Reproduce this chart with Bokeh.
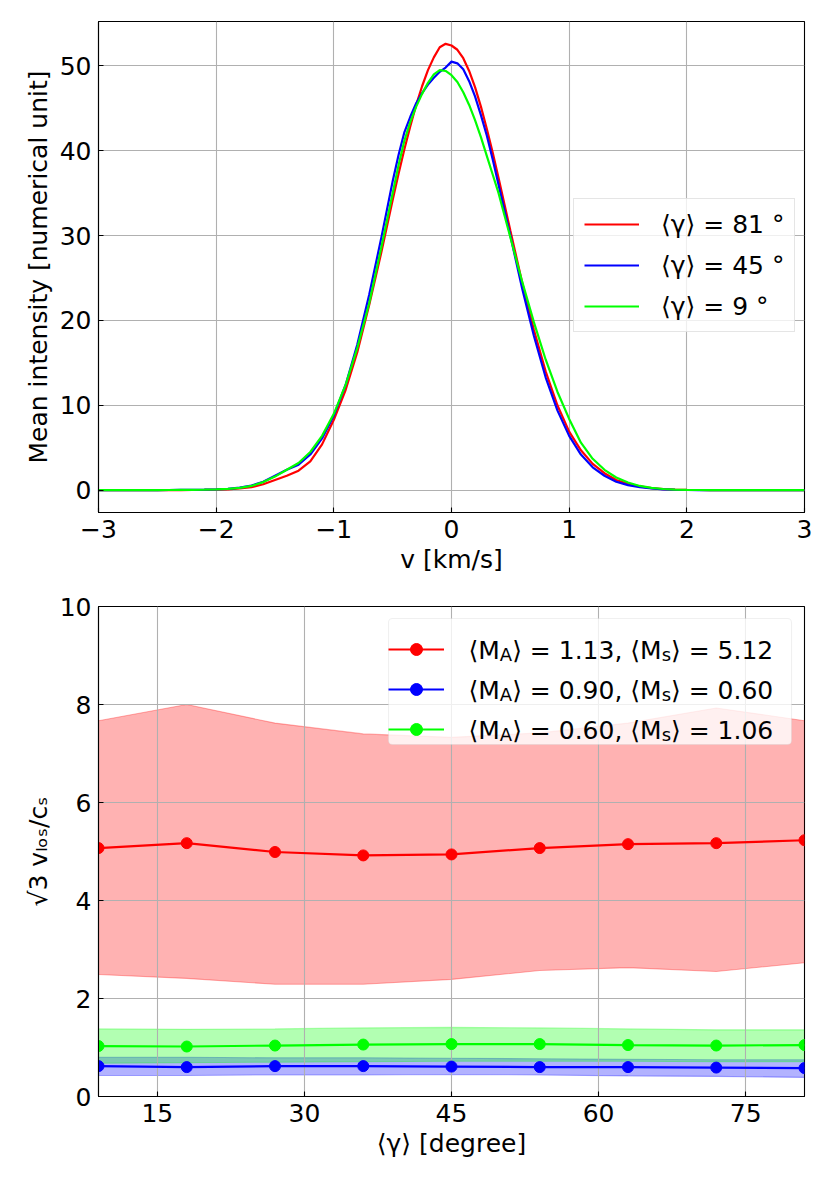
import os
import subprocess
from bokeh.plotting import figure
from bokeh.models import Range1d, FixedTicker, Legend, LegendItem, Label, BoxAnnotation
from bokeh.layouts import column
from bokeh.embed import file_html
from bokeh.resources import INLINE

FONT = "DejaVu Sans"
FS = 25
SUB_FS = 18

# ---------------- top panel data ----------------
velocity = [-3.0, -2.9, -2.8, -2.7, -2.6, -2.5, -2.4, -2.3, -2.2, -2.1,
            -2.0, -1.9, -1.8, -1.7, -1.6, -1.5, -1.4, -1.3, -1.2, -1.1,
            -1.0, -0.9, -0.8, -0.7, -0.6,
            -0.5, -0.45, -0.4, -0.35, -0.3, -0.25, -0.2, -0.15, -0.1, -0.05,
            0.0, 0.05, 0.1, 0.15, 0.2, 0.25, 0.3, 0.35, 0.4, 0.45, 0.5,
            0.6, 0.7, 0.8, 0.9,
            1.0, 1.1, 1.2, 1.3, 1.4, 1.5, 1.6, 1.7, 1.8, 1.9,
            2.0, 2.1, 2.2, 2.3, 2.4, 2.5, 2.6, 2.7, 2.8, 2.9, 3.0]

intensity_81 = [0.0, 0.0, 0.0, 0.0, 0.0, 0.0, 0.01, 0.01, 0.02, 0.03,
                0.05, 0.1, 0.2, 0.35, 0.7, 1.2, 1.7, 2.3, 3.4, 5.4,
                8.3, 11.8, 16.3, 21.8, 27.8,
                34.2, 37.3, 40.2, 42.9, 45.4, 47.6, 49.5, 51.0, 52.2, 52.6,
                52.4, 51.9, 50.9, 49.4, 47.5, 45.2, 42.6, 39.8, 36.8, 33.7, 30.6,
                24.5, 18.9, 14.0, 10.0,
                6.9, 4.7, 3.1, 2.0, 1.2, 0.75, 0.45, 0.25, 0.12, 0.06,
                0.03, 0.02, 0.01, 0.01, 0.0, 0.0, 0.0, 0.0, 0.0, 0.0, 0.0]

intensity_45 = [0.0, 0.0, 0.0, 0.0, 0.01, 0.01, 0.02, 0.03, 0.04, 0.06,
                0.1, 0.15, 0.3, 0.55, 1.0, 1.7, 2.4, 3.0, 4.2, 6.1,
                8.8, 12.4, 17.2, 23.0, 29.5,
                36.4, 39.5, 42.2, 44.0, 45.6, 46.8, 47.8, 48.6, 49.3, 49.8,
                50.5, 50.3, 49.6, 48.2, 46.4, 44.2, 41.8, 39.0, 36.0, 33.0, 30.0,
                23.8, 18.2, 13.3, 9.4,
                6.4, 4.2, 2.7, 1.7, 1.0, 0.6, 0.35, 0.2, 0.1, 0.05,
                0.02, 0.01, 0.01, 0.0, 0.0, 0.0, 0.0, 0.0, 0.0, 0.0, 0.0]

intensity_9 = [0.0, 0.0, 0.0, 0.0, 0.01, 0.01, 0.02, 0.03, 0.04, 0.06,
               0.1, 0.15, 0.28, 0.5, 0.95, 1.6, 2.4, 3.2, 4.5, 6.4,
               9.0, 12.4, 16.8, 22.0, 28.4,
               35.0, 38.3, 41.2, 43.4, 45.2, 46.7, 48.0, 49.0, 49.5, 49.4,
               48.9, 48.1, 46.9, 45.4, 43.6, 41.6, 39.4, 37.2, 35.0, 32.4, 29.8,
               24.6, 19.8, 15.4, 11.6,
               8.4, 5.6, 3.7, 2.4, 1.5, 0.9, 0.5, 0.28, 0.14, 0.07,
               0.03, 0.02, 0.01, 0.01, 0.0, 0.0, 0.0, 0.0, 0.0, 0.0, 0.0]

top_labels = ["⟨γ⟩ = 81 °", "⟨γ⟩ = 45 °", "⟨γ⟩ = 9 °"]
top_colors = ["#ff0000", "#0000ff", "#00ff00"]
top_xticks = [-3, -2, -1, 0, 1, 2, 3]
top_yticks = [0, 10, 20, 30, 40, 50]

# ---------------- bottom panel data ----------------
gamma_deg = [9, 18, 27, 36, 45, 54, 63, 72, 81]

red_mean = [5.07, 5.17, 4.99, 4.92, 4.94, 5.07, 5.15, 5.17, 5.23]
red_upper = [7.67, 8.00, 7.62, 7.40, 7.33, 7.42, 7.62, 7.93, 7.67]
red_lower = [2.49, 2.41, 2.29, 2.29, 2.39, 2.57, 2.63, 2.55, 2.73]

blue_mean = [0.62, 0.60, 0.62, 0.62, 0.61, 0.60, 0.60, 0.59, 0.58]
blue_upper = [0.80, 0.80, 0.79, 0.79, 0.78, 0.77, 0.76, 0.75, 0.75]
blue_lower = [0.43, 0.43, 0.44, 0.44, 0.45, 0.44, 0.42, 0.41, 0.39]

green_mean = [1.03, 1.02, 1.04, 1.06, 1.07, 1.07, 1.05, 1.04, 1.05]
green_upper = [1.38, 1.37, 1.38, 1.40, 1.41, 1.40, 1.38, 1.36, 1.36]
green_lower = [0.68, 0.69, 0.70, 0.71, 0.72, 0.72, 0.72, 0.71, 0.71]

mach_A = [1.13, 0.90, 0.60]
mach_s = [5.12, 0.60, 1.06]
bottom_colors = ["#ff0000", "#0000ff", "#00ff00"]
bottom_xticks = [15, 30, 45, 60, 75]
bottom_yticks = [0, 2, 4, 6, 8, 10]


# ---------------- text measuring (for the sub-scripted legend) ----------------
def make_measure():
    try:
        from PIL import ImageFont
        cands = []
        try:
            out = subprocess.run(["fc-match", "-f", "%{file}", "DejaVu Sans:style=Book"],
                                 capture_output=True, text=True, timeout=10).stdout.strip()
            cands.append(out)
        except Exception:
            pass
        cands += ["/usr/share/fonts/truetype/dejavu/DejaVuSans.ttf",
                  "/usr/share/fonts/dejavu/DejaVuSans.ttf",
                  "/usr/share/fonts/TTF/DejaVuSans.ttf",
                  "/usr/share/fonts/dejavu-sans-fonts/DejaVuSans.ttf"]
        for c in cands:
            if c and os.path.exists(c):
                cache = {}

                def m(s, size, c=c, cache=cache):
                    if size not in cache:
                        cache[size] = ImageFont.truetype(c, size)
                    return cache[size].getlength(s)
                m("x", FS)
                return m
    except Exception:
        pass
    W = {" ": .318, ",": .318, ".": .318, "=": .838, "M": .863, "A": .684, "s": .521,
         "⟨": .39, "⟩": .39}

    def m(s, size):
        return sum(W.get(ch, .636) for ch in s) * size
    return m


measure = make_measure()


def style(p):
    p.background_fill_color = "white"
    p.border_fill_color = "white"
    p.outline_line_color = "black"
    p.outline_line_width = 1.1
    p.outline_line_alpha = 1.0
    for ax in (p.xaxis[0], p.yaxis[0]):
        ax.axis_line_color = "black"
        ax.axis_line_width = 1.1
        ax.major_tick_in = 5
        ax.major_tick_out = 0
        ax.major_tick_line_color = "black"
        ax.major_tick_line_width = 1.1
        ax.minor_tick_line_color = None
        ax.major_label_text_font = FONT
        ax.major_label_text_font_size = f"{FS}px"
        ax.major_label_text_color = "black"
        ax.major_label_standoff = 7
        ax.axis_label_text_font = FONT
        ax.axis_label_text_font_size = f"{FS}px"
        ax.axis_label_text_font_style = "normal"
        ax.axis_label_text_color = "black"
        ax.axis_label_standoff = 4
    for g in p.grid:
        g.grid_line_color = "#b0b0b0"
        g.grid_line_width = 1.1


def minus(v):
    return str(v).replace("-", "−")


# ---------------- top figure ----------------
all_int = intensity_81 + intensity_45 + intensity_9
ymax = max(all_int)
ymin = min(all_int)
pad = 0.05 * (ymax - ymin)

p1 = figure(frame_width=706, frame_height=491,
            min_border_left=98, min_border_right=14, min_border_top=21, min_border_bottom=70,
            x_range=Range1d(min(velocity), max(velocity)),
            y_range=Range1d(ymin - pad, ymax + pad),
            output_backend="svg", toolbar_location=None)
style(p1)
p1.xaxis.ticker = FixedTicker(ticks=top_xticks)
p1.xaxis.major_label_overrides = {t: minus(t) for t in top_xticks}
p1.yaxis.ticker = FixedTicker(ticks=top_yticks)
p1.xaxis.axis_label = "v [km/s]"
p1.yaxis.axis_label = "Mean intensity [numerical unit]"

top_items = []
for ys, col, lab in zip([intensity_81, intensity_45, intensity_9], top_colors, top_labels):
    r = p1.line(velocity, ys, line_color=col, line_width=2.2)
    top_items.append(LegendItem(label=lab, renderers=[r]))

leg1 = Legend(items=top_items, location=(475, 180), orientation="vertical",
              padding=10, margin=0, spacing=11,
              glyph_width=55, glyph_height=30, label_height=30, label_width=120,
              label_standoff=22,
              label_text_font=FONT, label_text_font_size=f"{FS}px", label_text_color="black",
              background_fill_color="white", background_fill_alpha=0.8,
              border_line_color="#cccccc", border_line_width=1.1)
p1.add_layout(leg1)

# ---------------- bottom figure ----------------
p2 = figure(frame_width=706, frame_height=490,
            min_border_left=98, min_border_right=14, min_border_top=24, min_border_bottom=70,
            x_range=Range1d(min(gamma_deg), max(gamma_deg)),
            y_range=Range1d(0, 10),
            output_backend="svg", toolbar_location=None)
style(p2)
p2.xaxis.ticker = FixedTicker(ticks=bottom_xticks)
p2.yaxis.ticker = FixedTicker(ticks=bottom_yticks)
p2.xaxis.axis_label = "⟨γ⟩ [degree]"
p2.yaxis.axis_label = "√3 vₗₒₛ/cₛ"

series = [(red_mean, red_lower, red_upper),
          (blue_mean, blue_lower, blue_upper),
          (green_mean, green_lower, green_upper)]
bottom_items = []
for (m_, lo, up), col in zip(series, bottom_colors):
    p2.varea(x=gamma_deg, y1=lo, y2=up, fill_color=col, fill_alpha=0.3, level="image")
    p2.line(gamma_deg, up, line_color=col, line_alpha=0.3, line_width=1.1, level="image")
    p2.line(gamma_deg, lo, line_color=col, line_alpha=0.3, line_width=1.1, level="image")
for (m_, lo, up), col in zip(series, bottom_colors):
    lr = p2.line(gamma_deg, m_, line_color=col, line_width=2.2)
    sr = p2.scatter(gamma_deg, m_, size=11, fill_color=col, line_color=col)
    bottom_items.append(LegendItem(label=" ", renderers=[lr, sr]))

L_X, L_Y = 290, 352
L_PAD, L_GW, L_STAND, L_LW = 8, 56, 16, 315
L_H, L_SP = 30, 10
legend_h = 2 * L_PAD + 3 * L_H + 2 * L_SP
legend_w = 2 * L_PAD + L_GW + L_STAND + L_LW

# legend frame (white, semi-opaque, light grey border) drawn beneath the entries
box = BoxAnnotation(left=L_X, right=L_X + legend_w, bottom=L_Y, top=L_Y + legend_h,
                    left_units="screen", right_units="screen",
                    bottom_units="screen", top_units="screen",
                    fill_color="white", fill_alpha=0.8,
                    line_color="#cccccc", line_width=1.1, level="annotation")
try:
    box.border_radius = 4
except Exception:
    pass
p2.add_layout(box)

leg2 = Legend(items=bottom_items, location=(L_X, L_Y), orientation="vertical",
              padding=L_PAD, margin=0, spacing=L_SP,
              glyph_width=L_GW, glyph_height=L_H, label_height=L_H, label_width=L_LW,
              label_standoff=L_STAND,
              label_text_font=FONT, label_text_font_size=f"{FS}px",
              background_fill_alpha=0.0, border_line_color=None)
p2.add_layout(leg2)

top_y = L_Y + legend_h
text_x0 = L_X + L_PAD + L_GW + L_STAND
for k, (ma, ms) in enumerate(zip(mach_A, mach_s)):
    yc = top_y - L_PAD - L_H / 2 - k * (L_H + L_SP)
    base = yc - 9
    pieces = [("⟨M", False), ("A", True), (f"⟩ = {ma:.2f}, ⟨M", False), ("s", True), (f"⟩ = {ms:.2f}", False)]
    x = text_x0
    for txt, sub in pieces:
        size = SUB_FS if sub else FS
        p2.add_layout(Label(x=x, y=base - (4 if sub else 0), x_units="screen", y_units="screen",
                            text=txt, text_font=FONT, text_font_size=f"{size}px",
                            text_color="black", text_align="left", text_baseline="alphabetic",
                            level="overlay"))
        x += measure(txt, size)

layout = column(p1, p2)
with open("out.html", "w") as f:
    f.write(file_html(layout, INLINE, title="Mean intensity and velocity dispersion"))
